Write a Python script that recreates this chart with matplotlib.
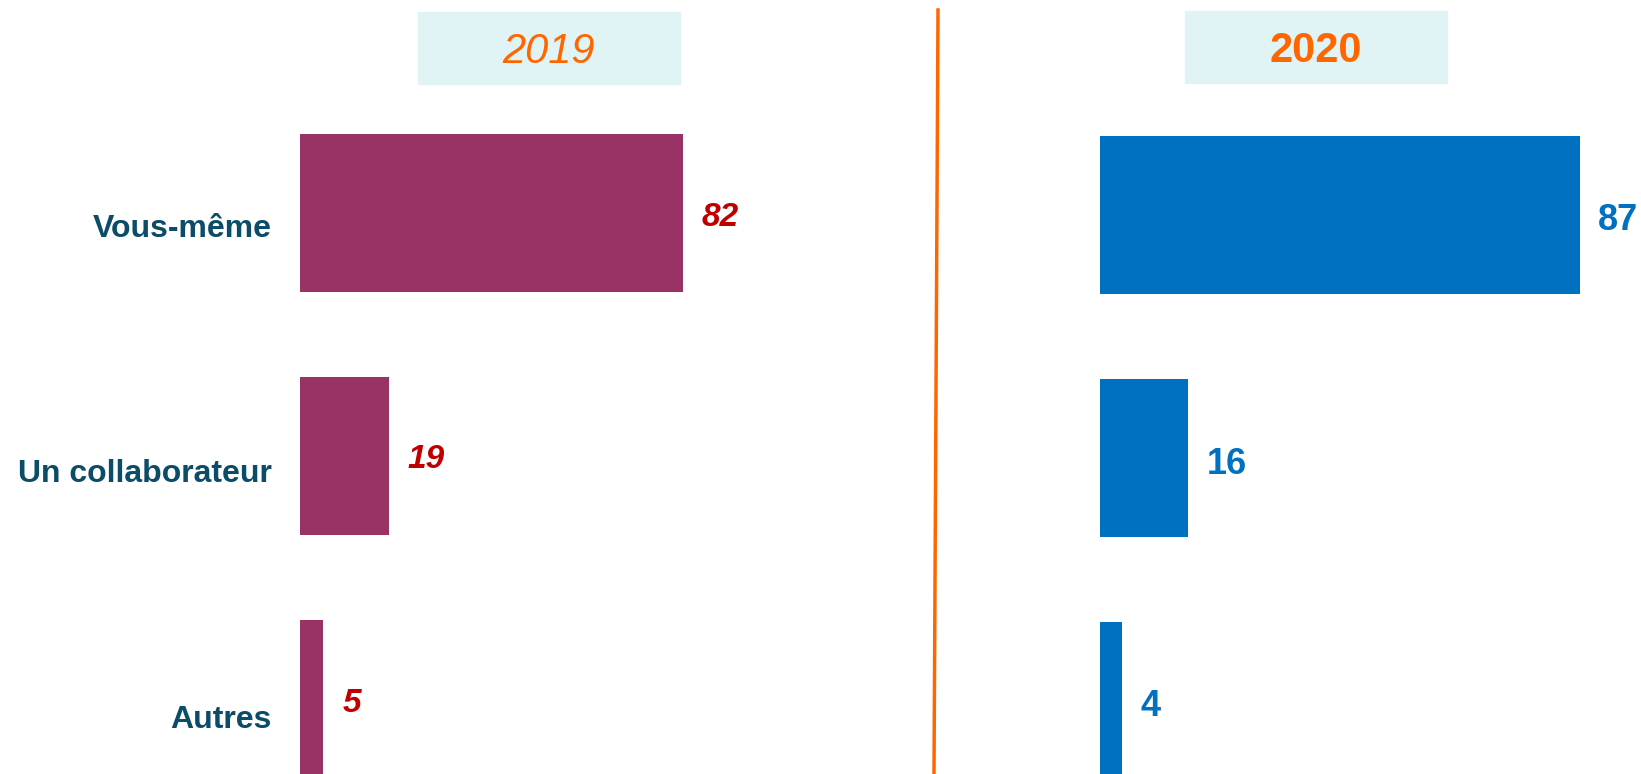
import matplotlib.pyplot as plt
from matplotlib.patches import Rectangle
from matplotlib.lines import Line2D

categories = ["Vous-même", "Un collaborateur", "Autres"]
values_2019 = [82, 19, 5]
values_2020 = [87, 16, 4]
years = ["2019", "2020"]

W, H = 1641, 774
plt.rcParams["font.family"] = ["Liberation Sans", "DejaVu Sans"]

fig = plt.figure(figsize=(W / 100, H / 100), dpi=100)


def px_axes(x0, x1, y0, y1):
    # pixel box (top-left origin) -> figure axes
    return fig.add_axes([x0 / W, 1 - y1 / H, (x1 - x0) / W, (y1 - y0) / H])


step = 243.0
pos = list(range(len(categories)))
label_drop = [-16, -18, -21]

# left panel (2019)
ax1 = px_axes(300, 800, 0, H)
ax1.barh(pos, values_2019, height=158 / step, color="#993366")
ax1.set_xlim(0, 500 / 4.67)
ax1.set_ylim((H - 213) / step, -213 / step)
for i, v in enumerate(values_2019):
    ax1.annotate(str(v), (v, i), xytext=(19, -4), textcoords="offset pixels",
                 ha="left", va="center", fontsize=24, fontweight="bold",
                 fontstyle="italic", color="#C00000")
for i, c in enumerate(categories):
    ax1.annotate(c, (0, i), xytext=(-28, label_drop[i]), textcoords="offset pixels",
                 ha="right", va="center", fontsize=23, fontweight="bold",
                 color="#0B4C68", annotation_clip=False)

# right panel (2020)
ax2 = px_axes(1100, W, 0, H)
ax2.barh(pos, values_2020, height=158 / step, color="#0070C0")
ax2.set_xlim(0, 541 / 5.52)
ax2.set_ylim((H - 215) / step, -215 / step)
for i, v in enumerate(values_2020):
    ax2.annotate(str(v), (v, i), xytext=(18, -6), textcoords="offset pixels",
                 ha="left", va="center", fontsize=26, fontweight="bold",
                 color="#0070C0", annotation_clip=False)

for ax in (ax1, ax2):
    ax.axis("off")

# year header boxes
for (x0, x1, y0, y1), label, style, weight in [
    ((418, 680, 12, 84), years[0], "italic", "normal"),
    ((1185, 1447, 11, 83), years[1], "normal", "bold"),
]:
    fig.patches.append(Rectangle((x0 / W, 1 - y1 / H), (x1 - x0) / W, (y1 - y0) / H,
                                 transform=fig.transFigure, color="#E0F3F5", zorder=0))
    fig.text((x0 + x1) / 2 / W, 1 - ((y0 + y1) / 2 + 4) / H, label, ha="center", va="center",
             fontsize=30, fontstyle=style, fontweight=weight, color="#FF6600")

# divider
fig.lines.append(Line2D([938 / W, 934 / W], [1 - 10 / H, 0], transform=fig.transFigure,
                        color="#FF6600", linewidth=2.5))

fig.savefig("out.png", dpi=100)
